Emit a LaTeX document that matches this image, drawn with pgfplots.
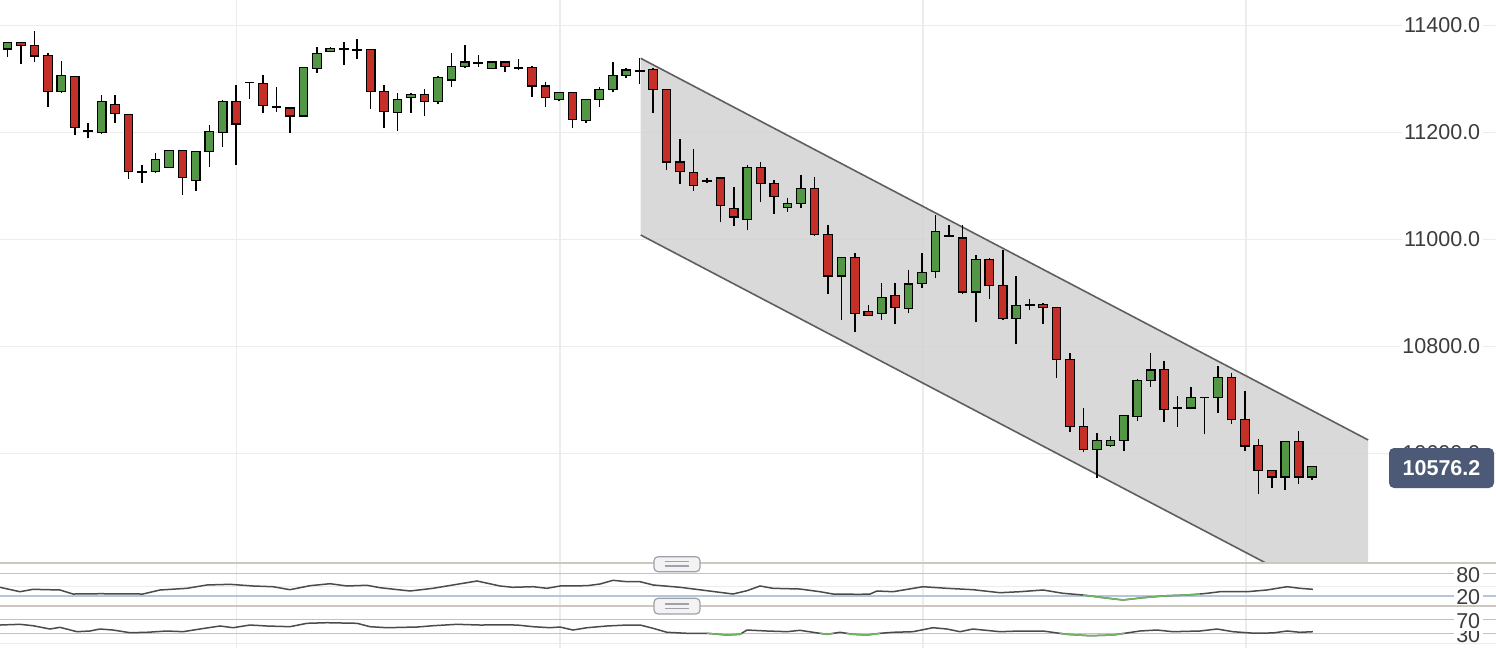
\documentclass[border=0pt]{standalone}
\usepackage{pgfplots}
\pgfplotsset{compat=1.18}
\usepackage{pgfplotstable}
\usepackage{fontspec}
\setmainfont{Liberation Sans}
\definecolor{cgreen}{RGB}{82,150,70}
\definecolor{cred}{RGB}{196,48,40}
\definecolor{gridc}{RGB}{236,236,236}
\definecolor{chanfill}{RGB}{212,212,212}
\definecolor{chanline}{RGB}{95,95,95}
\definecolor{lvl}{RGB}{180,197,220}
\definecolor{divc}{RGB}{204,200,192}
\definecolor{badge}{RGB}{76,90,120}
\definecolor{lbl}{RGB}{60,60,60}
\definecolor{osc}{RGB}{75,75,75}
\definecolor{oscg}{RGB}{110,185,95}
\definecolor{hdraw}{RGB}{160,160,170}
\definecolor{hfill}{RGB}{243,243,243}
\definecolor{hline}{RGB}{160,160,175}

\pgfplotstableread{
k o h l c
0 11356 11370 11342 11369
1 11369 11370 11328 11362
2 11362 11390 11331 11343
3 11344 11348 11248 11276
4 11276 11334 11274 11306
5 11305 11306 11195 11209
6 11204 11217 11189 11203
7 11200 11270 11198 11258
8 11253 11270 11218 11236
9 11234 11235 11114 11127
10 11127 11139 11106 11126
11 11127 11161 11125 11149
12 11134 11167 11133 11167
13 11167 11168 11084 11116
14 11111 11165 11091 11164
15 11164 11214 11136 11202
16 11200 11261 11173 11258
17 11258 11289 11140 11216
18 11293 11295 11263 11294
19 11291 11308 11237 11250
20 11249 11285 11239 11247
21 11246 11248 11200 11231
22 11231 11321 11230 11321
23 11320 11359 11312 11348
24 11351 11360 11350 11357
25 11357 11370 11327 11356
26 11355 11375 11337 11354
27 11355 11356 11244 11276
28 11276 11288 11208 11239
29 11238 11273 11203 11262
30 11266 11273 11237 11271
31 11271 11281 11230 11258
32 11258 11306 11253 11303
33 11298 11348 11286 11324
34 11324 11364 11320 11332
35 11331 11345 11323 11330
36 11320 11333 11319 11332
37 11332 11333 11314 11323
38 11321 11337 11317 11320
39 11321 11324 11267 11287
40 11287 11295 11248 11265
41 11261 11276 11258 11275
42 11275 11276 11208 11225
43 11223 11263 11218 11262
44 11262 11285 11248 11280
45 11280 11331 11275 11306
46 11306 11320 11301 11317
47 11316 11339 11290 11315
48 11318 11320 11237 11281
49 11280 11281 11130 11145
50 11145 11187 11104 11127
51 11126 11169 11091 11101
52 11111 11115 11106 11109
53 11115 11116 11032 11063
54 11058 11098 11025 11042
55 11037 11139 11018 11134
56 11134 11145 11070 11105
57 11104 11111 11048 11081
58 11060 11077 11052 11068
59 11068 11121 11058 11096
60 11096 11116 11007 11010
61 11010 11027 10898 10932
62 10932 10968 10850 10966
63 10966 10974 10827 10862
64 10865 10878 10857 10858
65 10862 10918 10850 10891
66 10895 10918 10842 10873
67 10871 10943 10862 10917
68 10918 10974 10909 10939
69 10940 11046 10928 11015
70 11007 11027 11004 11005
71 11003 11027 10898 10902
72 10902 10971 10845 10962
73 10962 10965 10889 10914
74 10914 10980 10850 10853
75 10853 10931 10804 10876
76 10879 10888 10868 10877
77 10879 10881 10842 10873
78 10873 10874 10741 10775
79 10775 10788 10640 10651
80 10651 10686 10603 10607
81 10607 10638 10554 10625
82 10615 10633 10613 10625
83 10625 10672 10605 10671
84 10669 10739 10661 10737
85 10737 10788 10724 10756
86 10757 10773 10658 10683
87 10685 10708 10650 10684
88 10685 10724 10684 10705
89 10705 10706 10636 10704
90 10705 10764 10676 10742
91 10742 10750 10655 10664
92 10664 10717 10605 10614
93 10615 10627 10524 10569
94 10569 10570 10535 10556
95 10556 10624 10531 10622
96 10622 10642 10543 10556
97 10556 10577 10551 10576.2
}\candles

\pgfplotstableread{
k v
-0.56 42.6
0.93 30.8
1.90 37.2
3.90 35.4
4.87 24.6
6.88 25.4
10.07 24.6
11.34 35.4
13.35 39.9
14.83 48.8
16.54 50.6
18.25 46.1
19.74 44.2
21.0 36.2
22.49 46.9
23.98 52.2
25.24 46.1
26.73 48.0
27.7 41.5
29.93 32.7
31.64 39.9
33.12 48.8
34.91 59.5
36.62 46.1
37.58 42.6
39.07 44.2
40.11 39.9
41.08 46.1
43.09 46.9
44.05 51.4
45.02 61.3
46.06 57.6
47.03 57.6
48.0 48.8
50.0 42.6
52.01 33.5
53.94 24.6
54.98 33.5
55.95 46.1
56.91 39.9
58.92 38.0
60.41 30.8
61.38 24.6
63.38 23.8
64.13 24.6
64.65 32.7
65.84 30.8
68.07 44.2
69.85 39.9
71.78 36.2
73.79 28.1
75.28 30.8
76.99 35.4
78.48 26.5
79.96 22.0
81.23 15.8
82.94 8.6
84.42 14.7
86.21 20.1
87.7 22.0
88.66 24.6
89.18 26.5
90.15 30.8
92.16 30.8
93.64 35.4
95.13 44.2
96.1 39.9
97.06 37.2
}\stoch

\pgfplotstableread{
k v
-0.56 53.7
0.93 55.7
1.90 51.7
3.16 42.3
3.90 47.1
5.17 34.6
6.13 36.6
6.88 42.3
7.84 39.4
9.11 31.7
10.37 32.9
11.86 36.6
13.05 34.6
14.31 42.3
15.8 50.9
16.77 46.0
18.03 53.7
19.29 50.9
21.0 48.9
22.27 58.6
23.75 60.3
25.99 58.6
26.95 48.9
28.22 46.0
30.45 48.0
31.64 51.7
33.42 55.7
35.13 53.7
36.62 54.0
37.88 53.7
39.07 48.9
40.33 46.0
41.08 48.0
42.04 39.4
43.09 46.0
44.57 50.9
46.06 53.7
47.03 53.7
48.0 44.3
49.03 32.9
50.52 30.0
52.01 30.0
53.49 25.1
54.46 27.1
54.98 39.4
56.47 36.6
57.96 34.6
58.92 38.6
59.89 32.9
60.93 27.1
61.9 32.9
62.86 27.1
63.9 25.1
64.87 30.0
65.84 32.9
67.32 34.6
68.81 46.0
69.85 42.3
70.82 34.6
71.78 42.3
73.79 34.6
75.28 36.6
76.99 36.6
78.77 27.1
80.48 23.1
82.19 25.1
84.2 36.6
85.46 39.4
86.65 34.6
88.66 36.6
89.93 42.3
91.12 34.6
92.6 30.5
94.09 31.0
95.13 36.6
96.1 32.9
97.06 34.6
}\rsi

\begin{document}
\begin{tikzpicture}[x=1pt,y=1pt]
\pgfplotsset{
  base/.style={scale only axis, width=748pt, xmin=-0.558, xmax=110.67,
    axis line style={draw=none}, tick style={draw=none},
    xtick={17.05,41.08,68.07,92.08}, xticklabel=\empty},
  lab/.style={font=\fontsize{10.75}{12}\selectfont, text=lbl, fill=white, inner sep=1.2pt, anchor=east, xshift=-6.5pt}
}
% main price axis
\begin{axis}[base, at={(0pt,0pt)}, anchor=north west, height=281.65pt,
  ymin=10394.8, ymax=11447.7,
  ytick={10600,10800,11000,11200,11400},
  yticklabels={10600.0,10800.0,11000.0,11200.0,11400.0},
  yticklabel pos=right, yticklabel style={lab},
  grid=major, grid style={gridc, line width=0.6pt}]
\addplot[fill=chanfill, draw=none, fill opacity=0.88] coordinates {(47.08,11338.7) (101.17,10625.3) (101.17,10294.9) (47.08,11008.4)} -- cycle;
\addplot[chanline, line width=0.8pt] coordinates {(47.08,11338.7) (101.17,10625.3)};
\addplot[chanline, line width=0.8pt] coordinates {(47.08,11008.4) (101.17,10294.9)};
\addplot[draw=none, mark=none, error bars/.cd, y dir=plus, y explicit, error mark=none,
  error bar style={draw=black, line width=0.75pt}]
  table[x=k, y=l, y error expr=\thisrow{h}-\thisrow{l}] {\candles};
\end{axis}
% candle bodies
\begin{axis}[base, at={(0pt,0pt)}, anchor=north west, height=281.65pt,
  ymin=10394.8, ymax=11447.7, hide axis, ybar stacked, bar width=4.25pt]
\addplot[draw=none, fill=none] table[x=k, y expr={min(\thisrow{o},\thisrow{c})}] {\candles};
\addplot[fill=cgreen, draw=black, line width=0.6pt] table[x=k, y expr={max(\thisrow{c}-\thisrow{o},0)}] {\candles};
\addplot[fill=cred, draw=black, line width=0.6pt] table[x=k, y expr={max(\thisrow{o}-\thisrow{c},0)}] {\candles};
\end{axis}
% stochastic panel
\begin{axis}[base, at={(0pt,-281.65pt)}, anchor=north west, height=21.2pt,
  ymin=-6.7, ymax=106.9, ytick={20,80}, yticklabels={20,80},
  yticklabel pos=right, yticklabel style={lab, yshift=-0.8pt},
  grid=major, x grid style={gridc, line width=0.6pt}, y grid style={lvl, line width=0.8pt}]
\addplot[gridc, line width=0.6pt] coordinates {(-1,44) (112,44)};
\addplot[osc, line width=0.75pt] table[x=k, y=v] {\stoch};
\addplot[oscg, line width=0.75pt] coordinates {(79.96,22.0) (81.23,15.8) (82.94,8.6) (84.42,14.7) (86.21,20.1) (87.7,22.0) (88.66,24.6)};
\end{axis}
% RSI panel
\begin{axis}[base, at={(0pt,-302.85pt)}, anchor=north west, height=21.15pt,
  ymin=-12, ymax=108.9, ytick={30,70}, yticklabels={30,70},
  yticklabel pos=right, yticklabel style={lab, yshift=-0.8pt},
  grid=major, x grid style={gridc, line width=0.6pt}, y grid style={lvl, line width=0.8pt}]
\addplot[gridc, line width=0.6pt] coordinates {(-1,1.4) (112,1.4)};
\addplot[osc, line width=0.75pt] table[x=k, y=v] {\rsi};
\addplot[oscg, line width=0.75pt] coordinates {(52.01,30) (53.49,25.1) (54.46,27.1) (54.58,30)};
\addplot[oscg, line width=0.75pt] coordinates {(60.41,30) (60.93,27.1) (61.42,30)};
\addplot[oscg, line width=0.75pt] coordinates {(62.38,30) (62.86,27.1) (63.9,25.1) (64.87,30)};
\addplot[oscg, line width=0.75pt] coordinates {(78.23,30) (78.77,27.1) (80.48,23.1) (82.19,25.1) (83.05,30)};
\end{axis}
% dividers
\draw[divc, line width=1pt] (0,-281.65) -- (748,-281.65);
\draw[divc, line width=1pt] (0,-302.85) -- (748,-302.85);
% handles
\draw[draw=hdraw, fill=hfill, line width=0.6pt, rounded corners=2pt] (327,-278.35) rectangle (350,-285.85);
\draw[hline, line width=0.75pt] (332.5,-280.85) -- (344.5,-280.85) (332.5,-283) -- (344.5,-283);
\draw[draw=hdraw, fill=hfill, line width=0.6pt, rounded corners=2pt] (327,-299.15) rectangle (350,-307);
\draw[hline, line width=0.75pt] (332.5,-302) -- (344.5,-302) (332.5,-304.15) -- (344.5,-304.15);
% price badge
\node[fill=badge, rounded corners=2.5pt, minimum width=52.5pt, minimum height=20pt, inner sep=0pt, text=white, font=\bfseries\fontsize{10.75}{12}\selectfont] at (720.75,-234) {10576.2};
\pgfresetboundingbox
\useasboundingbox (0,0) rectangle (748,-324);
\end{tikzpicture}
\end{document}
